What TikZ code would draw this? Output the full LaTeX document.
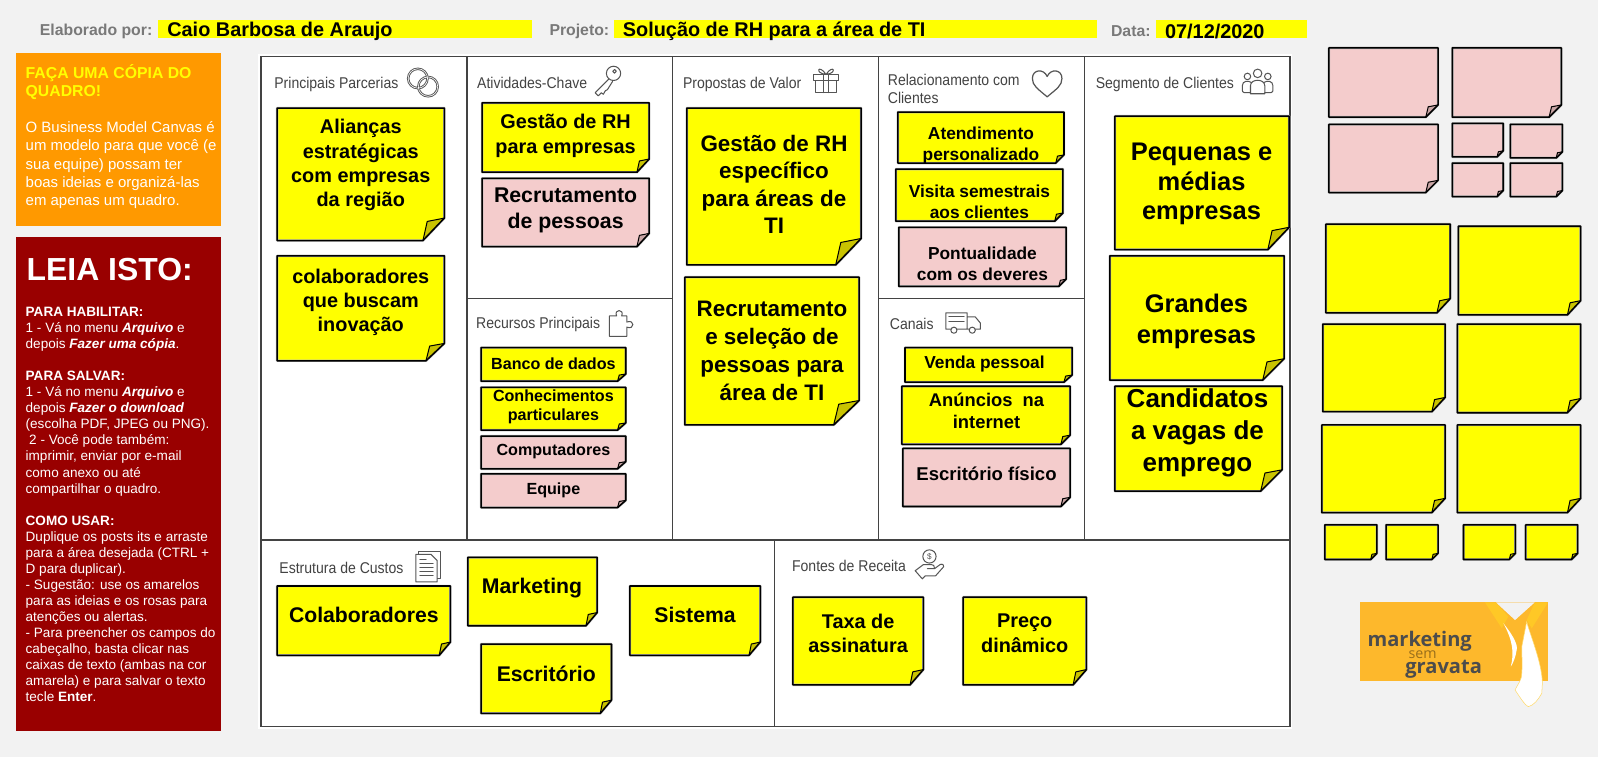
\documentclass[tikz,border=0pt]{standalone}
\usepackage{fontspec}
\setmainfont{Liberation Sans}
\newfontfamily\narrowf[FakeStretch=0.9]{Liberation Sans}
\newfontfamily\logof{Open Sans}
\definecolor{bgc}{HTML}{F2F2F2}
\definecolor{lnc}{HTML}{434343}
\definecolor{yel}{HTML}{FFFF00}
\definecolor{pnk}{HTML}{F4CCCC}
\definecolor{yelf}{HTML}{C9C300}
\definecolor{pnkf}{HTML}{C9A5A5}
\definecolor{orgc}{HTML}{FF9900}
\definecolor{redc}{HTML}{990000}
\definecolor{logoc}{HTML}{FDB82C}
\definecolor{collar}{HTML}{FFC826}
\definecolor{icoc}{HTML}{555555}
\newcommand\fs[2]{\fontsize{#1}{#2}\selectfont}
% x1 y1 x2 y2 colour fold-w fold-h
\newcommand\sticky[7]{%
  \path[fill=#5,draw=gray!55,line width=2.4pt,line join=round] (#1,#2)--(#3,#2)--(#3,{#4-#7})--({#3-#6},#4)--(#1,#4)--cycle;
  \fill[#5f] (#3,{#4-#7})--({#3-0.8*#6},{#4-0.85*#7})--({#3-#6},#4)--cycle;
  \draw[line width=1.5pt,black,line join=round] (#1,#2)--(#3,#2)--(#3,{#4-#7})--({#3-#6},#4)--(#1,#4)--cycle;
  \draw[line width=1pt,black,line join=round] (#3,{#4-#7})--({#3-0.8*#6},{#4-0.85*#7})--({#3-#6},#4);
}
\tikzset{
  ptxt/.style 2 args={inner sep=0pt,align=center,yshift=-1.5pt,font=\bfseries\fs{#1}{#2},text=black},
  hlab/.style={inner sep=0pt,anchor=west,font=\bfseries\fs{15.5}{18},text=gray!95!black},
  hval/.style={inner sep=0pt,anchor=west,font=\bfseries\fs{19.5}{22},text=black},
  ctitle/.style={inner sep=0pt,anchor=west,align=left,font=\narrowf\fs{15.3}{18},text=lnc},
  ico/.style={draw=icoc,line width=1pt,line join=round,line cap=round},
  gridln/.style={draw=lnc,line width=1.6pt},
}
\begin{document}
\begin{tikzpicture}[x=1pt,y=-1pt]
\useasboundingbox (0,0) rectangle (1568,743);
\fill[bgc] (0,0) rectangle (1568,743);
% header
\fill[yel] (155,20) rectangle (522,37);
\fill[yel] (602,20) rectangle (1076,37);
\fill[yel] (1134,20) rectangle (1282,37);
\node[hlab] (lbA) at (39,31) {Elaborado por:};
\node[hval] (valA) at (164,31) {Caio Barbosa de Araujo};
\node[hlab] (lbB) at (539,31) {Projeto:};
\node[hval] (valB) at (611,31) {Solução de RH para a área de TI};
\node[hlab] (lbC) at (1090,31) {Data:};
\node[hval] (valC) at (1143,31) {07/12/2020};
% left panels
\fill[orgc] (16,52) rectangle (217,222);
\node[inner sep=0pt,anchor=north west,align=left,font=\bfseries\fs{15.5}{18.2},text=yel] (orgT) at (25,63) {FAÇA UMA CÓPIA DO\\QUADRO!};
\node[inner sep=0pt,anchor=north west,align=left,font=\fs{14.7}{18},text=white] (orgB) at (25,119) {O Business Model Canvas é\\um modelo para que você (e\\sua equipe) possam ter\\boas ideias e organizá-las\\em apenas um quadro.};
\fill[redc] (16,233) rectangle (217,717);
\node[inner sep=0pt,anchor=west,font=\bfseries\fs{31.3}{35},text=white] (redT) at (26,264) {LEIA ISTO:};
\node[inner sep=0pt,anchor=north west,align=left,font=\fs{13.3}{15.72},text=white] (redB) at (25,301.5) {\textbf{PARA HABILITAR:}\\1 - Vá no menu \textbf{\textit{Arquivo}} e\\depois \textbf{\textit{Fazer uma cópia}}.\\[15.72pt]\textbf{PARA SALVAR:}\\1 - Vá no menu \textbf{\textit{Arquivo}} e\\depois \textbf{\textit{Fazer o download}}\\(escolha PDF, JPEG ou PNG).\\\hspace*{3.5pt}2 - Você pode também:\\imprimir, enviar por e-mail\\como anexo ou até\\compartilhar o quadro.\\[15.72pt]\textbf{COMO USAR:}\\Duplique os posts its e arraste\\para a área desejada (CTRL +\\D para duplicar).\\- Sugestão: use os amarelos\\para as ideias e os rosas para\\atenções ou alertas.\\- Para preencher os campos do\\cabeçalho, basta clicar nas\\caixas de texto (ambas na cor\\amarela) e para salvar o texto\\tecle \textbf{Enter}.};
% canvas
\fill[white] (253,53) rectangle (1268,715);
\draw[gridln] (256,55.5) rectangle (1266,713);
\draw[gridln] (458,55.5)--(458,530);
\draw[gridln] (660,55.5)--(660,530);
\draw[gridln] (862,55.5)--(862,530);
\draw[gridln] (1064,55.5)--(1064,530);
\draw[gridln] (256,530)--(1266,530);
\draw[gridln] (458,293)--(660,293);
\draw[gridln] (862,293)--(1064,293);
\draw[gridln] (760,530)--(760,713);
% titles
\node[ctitle] (t1) at (269,83) {Principais Parcerias};
\node[ctitle] (t2) at (468,81) {Atividades-Chave};
\node[ctitle] (t3) at (670,83) {Propostas de Valor};
\node[ctitle] (t4) at (871,87) {Relacionamento com\\Clientes};
\node[ctitle] (t5) at (1075,83) {Segmento de Clientes};
\node[ctitle] (t6) at (467,318) {Recursos Principais};
\node[ctitle] (t7) at (873,318) {Canais};
\node[ctitle] (t8) at (274,557) {Estrutura de Custos};
\node[ctitle] (t9) at (777,555) {Fontes de Receita};
% icons
\draw[ico,line width=2.4pt] (410,77) circle (9.5) (420,85) circle (9.5);
\draw[white,line width=0.6pt] (410,77) circle (9.5) (420,85) circle (9.5);
% key
\draw[ico] (602,72) circle (7) (603,70) circle (1.8);
\draw[ico] (597,78)--(584,91)--(587,94)--(590,91)--(592,92.5)--(594,89)--(596,88)--(601,80);
% gift
\draw[ico] (798,73) rectangle (823,79) (800,79) rectangle (821,91) (808,73)--(808,91) (813,73)--(813,91);
\draw[ico] (810.5,73) .. controls (803,62) and (799,72) .. (810.5,73) .. controls (822,72) and (818,62) .. (810.5,73);
% heart
\draw[ico,line width=1.2pt] (1027.5,95) .. controls (1018,87) and (1013,84) .. (1013,77) .. controls (1013,68) and (1024,67) .. (1027.5,75) .. controls (1031,67) and (1042,68) .. (1042,77) .. controls (1042,84) and (1037,87) .. (1027.5,95) -- cycle;
% people
\draw[ico] (1234,72) circle (4.2) (1224,75) circle (3.2) (1244,75) circle (3.2);
\draw[ico] (1227,92) -- (1227,84) .. controls (1227,77) and (1241,77) .. (1241,84) -- (1241,92) -- cycle;
\draw[ico] (1227,91) -- (1221,91) .. controls (1219,91) and (1219,89) .. (1219,88) -- (1219,84) .. controls (1219,79) and (1225,79) .. (1228,81);
\draw[ico] (1241,91) -- (1247,91) .. controls (1249,91) and (1249,89) .. (1249,88) -- (1249,84) .. controls (1249,79) and (1243,79) .. (1240,81);
% puzzle
\draw[ico] (598,330)--(598,310)--(605,310) .. controls (602,303) and (613,303) .. (610,310) -- (615,310) -- (615,316) .. controls (623,313) and (623,324) .. (615,321) -- (615,330) -- cycle;
% truck
\draw[ico] (928,307) rectangle (949,323) (949,311)--(957,311)--(962,317)--(962,323)--(949,323);
\draw[ico,fill=white] (936,324) circle (3) (954,324) circle (3);
\draw[ico] (931,311)--(946,311) (931,315)--(946,315);
% document
\draw[ico] (411,541) rectangle (432,568);
\draw[ico,fill=white] (408,544) -- (423,544) -- (429,550) -- (429,571) -- (408,571) -- cycle;
\draw[ico] (412,553)--(425,553) (412,557)--(425,557) (412,561)--(425,561) (412,565)--(425,565) (412,549)--(418,549);
% hand
\draw[ico] (912,546) circle (6.5);
\node[inner sep=0pt,font=\fs{8}{8},text=icoc] (dollar) at (912,546.2) {\$};
\draw[ico] (898,560) -- (905,568) -- (908,565) -- (918,565) -- (926,556) .. controls (926,553) and (923,553) .. (921,555) -- (917,558) -- (910,558) -- (917,558) .. controls (917,555) and (916,554) .. (914,554) -- (906,554) -- cycle;
% stickies with text
\sticky{272}{106}{436}{236}{yel}{21}{22}
\node[ptxt={19.5}{23.7}] (n1) at (354,160.5) {Alianças\\estratégicas\\com empresas\\da região};
\sticky{272}{251}{436}{354}{yel}{18}{17}
\node[ptxt={19.5}{23.7}] (n2) at (354,295) {colaboradores\\que buscam\\inovação};
\sticky{473}{101}{637}{169}{yel}{12}{13}
\node[ptxt={19.5}{24}] (n3) at (555,132) {Gestão de RH\\para empresas};
\sticky{473}{175}{637}{242}{pnk}{12}{13}
\node[ptxt={20.9}{26}] (n4) at (555,205) {Recrutamento\\de pessoas};
\sticky{472}{341}{614}{374}{yel}{8}{7}
\node[ptxt={15.8}{18}] (n5) at (543,355) {Banco de dados};
\sticky{472}{380}{614}{422}{yel}{8}{7}
\node[ptxt={15.8}{18.5}] (n6) at (543,398) {Conhecimentos\\particulares};
\sticky{472}{428}{614}{460}{pnk}{8}{7}
\node[ptxt={15.8}{18}] (n7) at (543,441) {Computadores};
\sticky{472}{465}{614}{498}{pnk}{8}{7}
\node[ptxt={15.8}{18}] (n8) at (543,480) {Equipe};
\sticky{674}{106}{845}{260}{yel}{25}{26}
\node[ptxt={22}{27}] (n9) at (759.5,179.5) {Gestão de RH\\específico\\para áreas de\\TI};
\sticky{672}{272}{843}{417}{yel}{25}{24}
\node[ptxt={22}{27.3}] (n10) at (757.5,343) {Recrutamento\\e seleção de\\pessoas para\\área de TI};
\sticky{881}{110}{1044}{160}{yel}{8}{8}
\node[ptxt={17}{21}] (n11) at (962.5,141.5) {Atendimento\\personalizado};
\sticky{879}{166}{1043}{217}{yel}{8}{8}
\node[ptxt={17}{20.5}] (n12) at (961,196.5) {Visita semestrais\\aos clientes};
\sticky{882}{223}{1046}{281}{pnk}{7}{7}
\node[ptxt={17}{20.5}] (n13) at (964,257) {Pontualidade\\com os deveres};
\sticky{888}{341}{1052}{375}{yel}{8}{7}
\node[ptxt={17}{20}] (n14) at (966,356) {Venda pessoal};
\sticky{885}{379}{1050}{436}{yel}{9}{9}
\node[ptxt={18}{21}] (n15) at (968,401.5) {Anúncios\ \ na\\internet};
\sticky{886}{440}{1050}{497}{pnk}{9}{9}
\node[ptxt={18.2}{21}] (n16) at (968,463) {Escritório físico};
\sticky{1094}{114}{1265}{245}{yel}{21}{22}
\node[ptxt={25}{29}] (n17) at (1179,179) {Pequenas e\\médias\\empresas};
\sticky{1089}{251}{1260}{373}{yel}{21}{21}
\node[ptxt={25}{30}] (n18) at (1174,314) {Grandes\\empresas};
\sticky{1094}{379}{1258}{482}{yel}{21}{21}
\node[ptxt={25.5}{31.5}] (n19) at (1175,423.5) {Candidatos\\a vagas de\\emprego};
\sticky{272}{575}{442}{643}{yel}{11}{13}
\node[ptxt={20.8}{24}] (n20) at (357,602) {Colaboradores};
\sticky{459}{547}{586}{614}{yel}{11}{13}
\node[ptxt={20.8}{24}] (n21) at (522,576) {Marketing};
\sticky{618}{575}{746}{643}{yel}{11}{13}
\node[ptxt={20.8}{24}] (n22) at (682,602) {Sistema};
\sticky{472}{632}{600}{700}{yel}{11}{13}
\node[ptxt={20.8}{24}] (n23) at (536,660) {Escritório};
\sticky{778}{586}{906}{672}{yel}{13}{15}
\node[ptxt={19.5}{24.5}] (n24) at (842,620) {Taxa de\\assinatura};
\sticky{945}{586}{1066}{672}{yel}{13}{15}
\node[ptxt={19.5}{24.5}] (n25) at (1005.5,620) {Preço\\dinâmico};
% spare pink
\sticky{1304}{47}{1411}{115}{pnk}{12}{12}
\sticky{1425}{47}{1532}{115}{pnk}{12}{12}
\sticky{1304}{122}{1411}{189}{pnk}{12}{12}
\sticky{1425}{121}{1475}{154}{pnk}{6}{6}
\sticky{1482}{122}{1533}{155}{pnk}{6}{6}
\sticky{1425}{160}{1475}{193}{pnk}{6}{6}
\sticky{1482}{160}{1533}{193}{pnk}{6}{6}
% spare yellow
\sticky{1301}{220}{1423}{307}{yel}{13}{14}
\sticky{1431}{222}{1551}{309}{yel}{13}{14}
\sticky{1298}{318}{1418}{404}{yel}{13}{14}
\sticky{1430}{318}{1551}{405}{yel}{13}{14}
\sticky{1297}{417}{1418}{503}{yel}{13}{14}
\sticky{1430}{417}{1551}{503}{yel}{13}{14}
\sticky{1300}{515}{1351}{549}{yel}{6}{6}
\sticky{1360}{515}{1411}{549}{yel}{6}{6}
\sticky{1436}{515}{1487}{549}{yel}{6}{6}
\sticky{1497}{515}{1548}{549}{yel}{6}{6}
% logo
\fill[logoc] (1334.5,591) rectangle (1519,668);
\fill[bgc] (1467.7,591)--(1486.6,608.4)--(1506,591)--cycle;
\fill[collar] (1457,591)--(1467.7,591)--(1480,605)--(1473.6,616.5)--cycle;
\fill[collar] (1506,591)--(1519,591)--(1503,616.5)--(1498,608.4)--cycle;
\fill[white] (1475.2,611.7) .. controls (1482,620) and (1490,632) .. (1488.2,637.8) .. controls (1487,645) and (1485,650) .. (1482.4,654.2) .. controls (1486,640) and (1484,628) .. (1475.2,611.7)--cycle;
\fill[white,draw=collar!70!white,line width=0.5pt] (1498,610) .. controls (1502,625) and (1513,650) .. (1513.4,670.5) -- (1512.8,680.3) .. controls (1509,687) and (1505,692) .. (1499.7,693.4) .. controls (1496,692) and (1490,682) .. (1486.6,677) .. controls (1490,670) and (1493.2,667) .. (1493.2,660.7) .. controls (1494,650) and (1493,640) .. (1493.2,634.6) -- cycle;
\node[inner sep=0pt,anchor=center,font=\logof\bfseries\fs{19.7}{20},text=lnc!95!white] (lg1) at (1393,629) {marketing};
\node[inner sep=0pt,anchor=center,font=\logof\fs{14}{14},text=black!40!logoc] (lg2) at (1396,642.5) {sem};
\node[inner sep=0pt,anchor=center,font=\logof\bfseries\fs{19.7}{20},text=lnc!95!white] (lg3) at (1416.5,656.5) {gravata};
\end{tikzpicture}
\end{document}
